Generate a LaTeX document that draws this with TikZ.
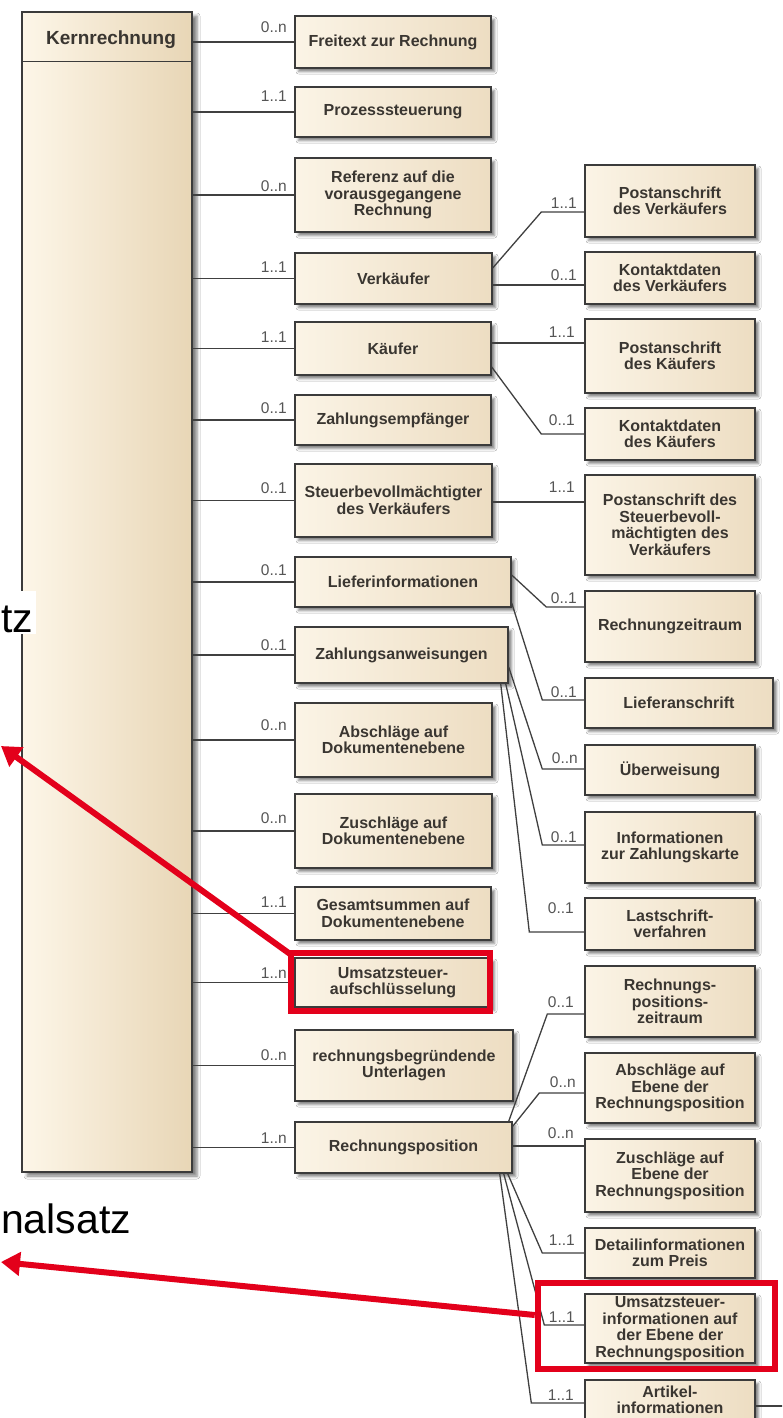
\documentclass[tikz,border=0pt]{standalone}
\usepackage{fontspec}
\setmainfont{Liberation Sans}
\usetikzlibrary{arrows.meta,shadows.blur}
\definecolor{boxborder}{HTML}{3B3B3B}
\definecolor{connc}{HTML}{404040}
\definecolor{txt}{HTML}{3A3631}
\definecolor{lblc}{HTML}{555555}
\definecolor{boxL}{HTML}{FBF4E6}
\definecolor{boxR}{HTML}{EDDDC2}
\definecolor{mainL}{HTML}{FDF6E8}
\definecolor{mainM}{HTML}{FBF0DE}
\definecolor{mainR}{HTML}{E8D6B6}
\definecolor{redc}{HTML}{E3001B}
\tikzset{
  bx/.style={draw=boxborder, line width=1.4pt, left color=boxL, right color=boxR,
    blur shadow={shadow xshift=3.5pt, shadow yshift=-3.5pt, shadow blur radius=2.5pt, shadow opacity=50},
    align=center, inner sep=0pt, font=\bfseries\fontsize{16}{16.5}\selectfont, text=txt},
  c1/.style={bx, minimum width=196pt},
  c2/.style={bx, minimum width=170pt},
  conn/.style={draw=connc, line width=1.3pt},
  lbl/.style={font=\fontsize{15.5}{16}\selectfont, text=lblc, anchor=base east, inner sep=0pt},
  redbox/.style={draw=redc, line width=6.5pt, inner sep=0pt},
  redarrow/.style={draw=redc, line width=6pt, -{Triangle[length=19pt,width=23pt]}},
  big/.style={font=\fontsize{41}{41}\selectfont, text=black, inner sep=0pt},
}
\begin{document}
\begin{tikzpicture}[x=1pt,y=-1pt]
\useasboundingbox (0,0) rectangle (782,1418);
\fill[white] (0,0) rectangle (782,1418);
\clip (0,0) rectangle (782,1418);

% main class
\node[draw=boxborder, line width=1.4pt, left color=mainL, middle color=mainM, right color=mainR,
  blur shadow={shadow xshift=5pt, shadow yshift=-4pt, shadow blur radius=3pt, shadow opacity=50},
  minimum width=170pt, minimum height=1160pt, inner sep=0pt] (K) at (107,592) {};
\draw[draw=boxborder, line width=1.4pt] ([yshift=-50pt]K.north west) -- ([yshift=-50pt]K.north east);
\node[font=\bfseries\fontsize{19}{19}\selectfont, text=txt, inner sep=0pt] (Kt) at ([xshift=4pt,yshift=-28pt]K.north) {Kernrechnung};

% first column
\node[c1, minimum height=52pt] (fr) at (393,42) {Freitext zur Rechnung};
\node[c1, minimum height=50pt] (ps) at (393,112) {Prozesssteuerung};
\node[c1, minimum height=74pt] (ref) at (393,195) {Referenz auf die\\vorausgegangene\\Rechnung};
\node[c1, minimum width=197pt, minimum height=51pt] (vk) at (393.5,278.5) {Verkäufer};
\node[c1, minimum height=53pt] (kf) at (393,348.5) {Käufer};
\node[c1, minimum height=50pt] (ze) at (393,420) {Zahlungsempfänger};
\node[c1, minimum width=197pt, minimum height=73pt] (stb) at (393.5,500.5) {Steuerbevollmächtigter\\des Verkäufers};
\node[c1, minimum width=216pt, minimum height=50pt] (li) at (403,582) {Lieferinformationen};
\node[c1, minimum width=213pt, minimum height=56pt] (za) at (401.5,655) {Zahlungsanweisungen};
\node[c1, minimum width=197pt, minimum height=74pt] (abd) at (393.5,740) {Abschläge auf\\Dokumentenebene};
\node[c1, minimum width=197pt, minimum height=74pt] (zud) at (393.5,831) {Zuschläge auf\\Dokumentenebene};
\node[c1, minimum height=53pt] (ges) at (393,913.5) {Gesamtsummen auf\\Dokumentenebene};
\node[c1, minimum height=49pt] (ust) at (393,982.5) {Umsatzsteuer-\\aufschlüsselung};
\node[c1, minimum width=218pt, minimum height=71pt] (rbu) at (404,1065.5) {rechnungsbegründende\\Unterlagen};
\node[c1, minimum width=217pt, minimum height=51pt] (rp) at (403.5,1147.5) {Rechnungsposition};

% second column
\node[c2, minimum height=72pt] (pv) at (670,201) {Postanschrift\\des Verkäufers};
\node[c2, minimum height=52pt] (kv) at (670,278) {Kontaktdaten\\des Verkäufers};
\node[c2, minimum height=74pt] (pk) at (670,356) {Postanschrift\\des Käufers};
\node[c2, minimum height=52pt] (kk) at (670,434) {Kontaktdaten\\des Käufers};
\node[c2, minimum height=100pt] (pst) at (670,525) {Postanschrift des\\Steuerbevoll-\\mächtigten des\\Verkäufers};
\node[c2, minimum height=71pt] (rz) at (670,626.5) {Rechnungzeitraum};
\node[c2, minimum width=188pt, minimum height=50pt] (la) at (679,703) {Lieferanschrift};
\node[c2, minimum height=50pt] (ub) at (670,770) {Überweisung};
\node[c2, minimum height=71pt] (izk) at (670,847.5) {Informationen\\zur Zahlungskarte};
\node[c2, minimum height=52pt] (ls) at (670,924) {Lastschrift-\\verfahren};
\node[c2, minimum height=71pt] (rpz) at (670,1001.5) {Rechnungs-\\positions-\\zeitraum};
\node[c2, minimum height=70pt] (abr) at (670,1088) {Abschläge auf\\Ebene der\\Rechnungsposition};
\node[c2, minimum height=73pt] (zur) at (670,1175.5) {Zuschläge auf\\Ebene der\\Rechnungsposition};
\node[c2, minimum height=50pt] (dp) at (670,1253) {Detailinformationen\\zum Preis};
\node[c2, minimum height=69pt] (ui) at (670,1328.5) {Umsatzsteuer-\\informationen auf\\der Ebene der\\Rechnungsposition};
\node[c2, minimum height=58pt] (ai) at (670,1409) {};
\node[font=\bfseries\fontsize{16}{16}\selectfont, text=txt, align=center, inner sep=0pt, anchor=base] (ait) at (670,1413) {Artikel-\\informationen};
\coordinate (aiout) at (790,1406);

% connectors from the main class
\foreach \n in {fr,ps,ref,vk,kf,ze,stb,li,za,abd,zud,ges,ust,rbu,rp}{
  \draw[conn] (K.east |- \n.west) -- (\n.west);
}
% connectors to the second column
\draw[conn] ([yshift=10.5pt]vk.east) -- ([xshift=-43pt,yshift=-11pt]pv.west) -- ([yshift=-11pt]pv.west);
\draw[conn] ([yshift=-6.5pt]vk.east) -- ([yshift=-7pt]kv.west);
\draw[conn] ([yshift=5.5pt]kf.east) -- ([yshift=13pt]pk.west);
\draw[conn] ([yshift=-18.5pt]kf.east) -- ([xshift=-43pt]kk.west) -- (kk.west);
\draw[conn] ([yshift=-1.5pt]stb.east) -- ([yshift=23pt]pst.west);
\draw[conn] ([yshift=7pt]li.east) -- ([xshift=-38pt,yshift=19.5pt]rz.west) -- ([yshift=19.5pt]rz.west);
\draw[conn] ([yshift=-21pt]li.east) -- ([xshift=-42pt,yshift=3pt]la.west) -- ([yshift=3pt]la.west);
\draw[conn] ([yshift=-12pt]za.east) -- ([xshift=-42pt,yshift=1pt]ub.west) -- ([yshift=1pt]ub.west);
\draw[conn] ([xshift=-3pt]za.south east) -- ([xshift=-42pt,yshift=2.5pt]izk.west) -- ([yshift=2.5pt]izk.west);
\draw[conn] ([xshift=-8pt]za.south east) -- ([xshift=-55pt,yshift=-8pt]ls.west) -- ([yshift=-8pt]ls.west);
\draw[conn] ([xshift=-4pt]rp.north east) -- ([xshift=-37pt,yshift=-12.5pt]rpz.west) -- ([yshift=-12.5pt]rpz.west);
\draw[conn] ([yshift=-5pt]rp.north east) -- ([xshift=-45pt,yshift=-5pt]abr.west) -- ([yshift=-5pt]abr.west);
\draw[conn] ([yshift=1.5pt]rp.east) -- ([yshift=29.5pt]zur.west);
\draw[conn] ([xshift=-5pt]rp.south east) -- ([xshift=-42pt]dp.west) -- (dp.west);
\draw[conn] ([xshift=-9pt]rp.south east) -- ([xshift=-40pt,yshift=3.5pt]ui.west) -- ([yshift=3.5pt]ui.west);
\draw[conn] ([xshift=-13pt]rp.south east) -- ([xshift=-53pt,yshift=6pt]ai.west) -- ([yshift=6pt]ai.west);
\draw[conn] ([yshift=3pt]ai.east) -- (aiout);

% multiplicities, first column
\node[lbl] (m1) at (287,33) {0..n};
\node[lbl] (m2) at (287,102) {1..1};
\node[lbl] (m3) at (287,191) {0..n};
\node[lbl] (m4) at (287,272) {1..1};
\node[lbl] (m5) at (287,342) {1..1};
\node[lbl] (m6) at (287,413) {0..1};
\node[lbl] (m7) at (287,493) {0..1};
\node[lbl] (m8) at (287,575) {0..1};
\node[lbl] (m9) at (287,650) {0..1};
\node[lbl] (m10) at (287,730) {0..n};
\node[lbl] (m11) at (287,823) {0..n};
\node[lbl] (m12) at (287,907) {1..1};
\node[lbl] (m13) at (287,978) {1..n};
\node[lbl] (m14) at (287,1060) {0..n};
\node[lbl] (m15) at (287,1143) {1..n};
% multiplicities, second column
\node[lbl] (n1) at (577,208) {1..1};
\node[lbl] (n2) at (577,280) {0..1};
\node[lbl] (n3) at (575,337) {1..1};
\node[lbl] (n4) at (575,425) {0..1};
\node[lbl] (n5) at (575,492) {1..1};
\node[lbl] (n6) at (577,603) {0..1};
\node[lbl] (n7) at (577,697) {0..1};
\node[lbl] (n8) at (578,763) {0..n};
\node[lbl] (n9) at (577,842) {0..1};
\node[lbl] (n10) at (574,913) {0..1};
\node[lbl] (n11) at (574,1007) {0..1};
\node[lbl] (n12) at (576,1087) {0..n};
\node[lbl] (n13) at (574,1138) {0..n};
\node[lbl] (n14) at (575,1245) {1..1};
\node[lbl] (n15) at (575,1322) {1..1};
\node[lbl] (n16) at (574,1400) {1..1};

% slide texts
\fill[white] (0,591) rectangle (36,634);
\node[big, anchor=base west] (tz) at (1,632) {tz};
\node[big, anchor=base west] (ms) at (1,1233) {nalsatz};

% red highlights
\node[redbox, minimum width=199pt, minimum height=58pt] (rr1) at (390.5,982) {};
\node[redbox, minimum width=237pt, minimum height=86pt] (rr2) at (656.5,1326) {};
\coordinate (tip1) at (1,746);
\coordinate (tip2) at (1,1262);
\draw[redarrow] ([xshift=2pt,yshift=-4pt]rr1.north west) -- (tip1);
\draw[redarrow] ([yshift=11pt]rr2.west) -- (tip2);
\end{tikzpicture}
\end{document}
